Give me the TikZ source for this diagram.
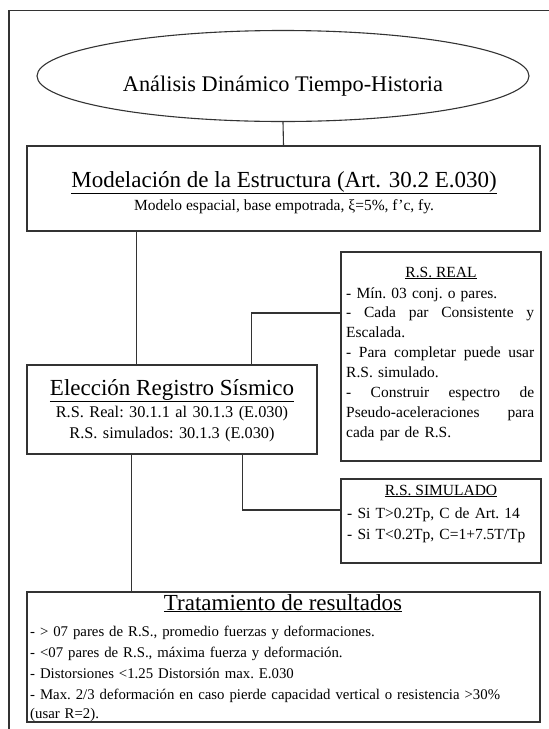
\documentclass[tikz,border=0pt]{standalone}
\usepackage{fontspec}
\setmainfont{Liberation Serif}
\usetikzlibrary{shapes.geometric}
\newcommand{\fullline}[1]{\makebox[188pt][s]{\spaceskip=0.25em plus 1fil\relax #1}}
\tikzset{
  flowline/.style={draw=black!80, line width=1.1pt},
  flowbox/.style={flowline, rectangle, inner sep=0pt},
  titletext/.style={font=\fontsize{23}{27}\selectfont, anchor=base, inner sep=0pt},
  bodytext/.style={font=\fontsize{15.5}{19.9}\selectfont\frenchspacing, anchor=base, inner sep=0pt},
  widetext/.style={bodytext, font=\fontsize{15.5}{21}\selectfont\frenchspacing},
}

\begin{document}
\begin{tikzpicture}[x=1pt,y=-1pt]
\useasboundingbox (0,0) rectangle (549,729);
% outer frame
\draw[flowline] (9,729) -- (9,10.5) -- (549,10.5);
% boxes
\node[flowline, ellipse, minimum width=492pt, minimum height=91pt, inner sep=0pt] (analisis) at (283,76) {};
\node[flowbox, minimum width=513pt, minimum height=85pt] (modelo) at (283.5,188.5) {};
\node[flowbox, minimum width=200pt, minimum height=209pt] (real) at (441,356.5) {};
\node[flowbox, minimum width=290pt, minimum height=89pt] (eleccion) at (172,409.5) {};
\node[flowbox, minimum width=200pt, minimum height=84pt] (simulado) at (441,521) {};
\node[flowbox, minimum width=513pt, minimum height=130pt] (tratamiento) at (283.5,657) {};
% texts
\node[titletext, font=\fontsize{22.3}{26}\selectfont] (analisistxt) at (283,91) {Análisis Dinámico Tiempo-Historia};
\node[titletext] (modelotit) at (284,187) {\underline{Modelación de la Estructura (Art. 30.2 E.030)}};
\node[bodytext] (modelosub) at (284,210) {Modelo espacial, base empotrada, ξ=5\%, f’c, fy.};
\node[bodytext] (realtit) at (441,277) {\underline{R.S. REAL}};
\node[bodytext, anchor=base west, text width=188pt, align=left] (realtxt) at (346,298) {- Mín. 03 conj. o pares.\\
\fullline{- Cada par Consistente y}\\
Escalada.\\
\fullline{- Para completar puede usar}\\
R.S. simulado.\\
\fullline{- Construir espectro de}\\
\fullline{Pseudo-aceleraciones para}\\
cada par de R.S.};
\node[titletext] (elecciontit) at (172,395) {\underline{Elección Registro Sísmico}};
\node[widetext, font=\fontsize{16.3}{21}\selectfont\frenchspacing, text width=280pt, align=center] (elecciontxt) at (172,417) {R.S. Real: 30.1.1 al 30.1.3 (E.030)\\R.S. simulados: 30.1.3 (E.030)};
\node[bodytext] (simuladotit) at (441,495) {\underline{R.S. SIMULADO}};
\node[widetext, anchor=base west, text width=190pt, align=left] (simuladotxt) at (347,518) {- Si T>0.2Tp, C de Art. 14\\- Si T<0.2Tp, C=1+7.5T/Tp};
\node[titletext] (tratamientotit) at (283,610) {\underline{Tratamiento de resultados}};
\node[widetext, font=\fontsize{14.8}{21}\selectfont\frenchspacing, anchor=base west, text width=505pt, align=left] (tratamientotxt) at (30,636) {- > 07 pares de R.S., promedio fuerzas y deformaciones.\\
- <07 pares de R.S., máxima fuerza y deformación.\\
- Distorsiones <1.25 Distorsión max. E.030\\
- Max. 2/3 deformación en caso pierde capacidad vertical o resistencia >30\%\\[-1.5pt]
(usar R=2).};
% connectors
\draw[flowline] (analisis.south) -- (modelo.north);
\draw[flowline] ([xshift=110pt]eleccion.north west) -- ([xshift=110pt]eleccion.north west |- modelo.south);
\draw[flowline] ([xshift=225pt]eleccion.north west) |- ([yshift=43.5pt]real.west);
\draw[flowline] ([xshift=216pt]eleccion.south west) |- ([yshift=11pt]simulado.west);
\draw[flowline] ([xshift=105pt]eleccion.south west) -- ([xshift=105pt]eleccion.south west |- tratamiento.north);
\end{tikzpicture}
\end{document}
